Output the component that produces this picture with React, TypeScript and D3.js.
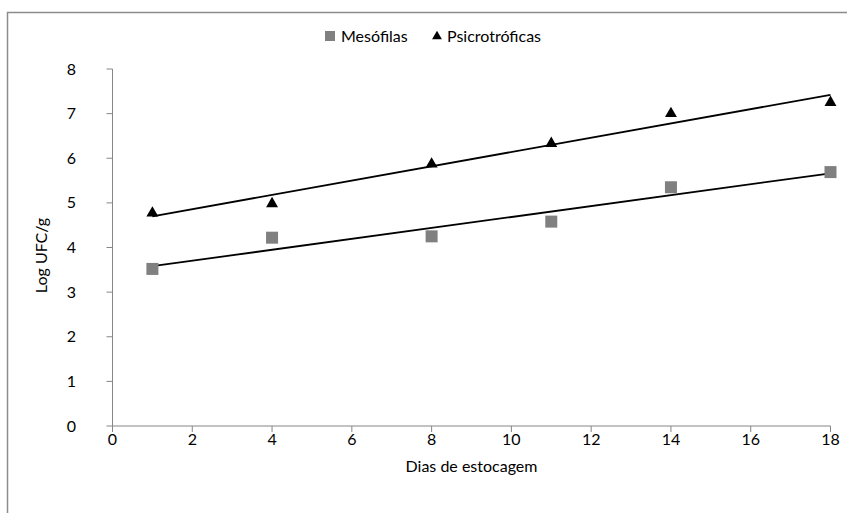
import React from "react";
import * as d3 from "d3";

const days = [1, 4, 8, 11, 14, 18];
const mesofilas = [3.52, 4.22, 4.25, 4.58, 5.35, 5.69];
const psicrotroficas = [4.77, 4.98, 5.87, 6.33, 7.0, 7.25];
const xTicks = [0, 2, 4, 6, 8, 10, 12, 14, 16, 18];
const yTicks = [0, 1, 2, 3, 4, 5, 6, 7, 8];

const W = 847;
const H = 513;
const FONT = "Lato, 'Open Sans', sans-serif";
const FS = 16;

function fit(xs: number[], ys: number[]) {
  const mx = d3.mean(xs)!;
  const my = d3.mean(ys)!;
  let sxy = 0, sxx = 0;
  xs.forEach((x, i) => {
    sxy += (x - mx) * (ys[i] - my);
    sxx += (x - mx) * (x - mx);
  });
  const b = sxy / sxx;
  return (x: number) => my + b * (x - mx);
}

export default function App() {
  const x = d3.scaleLinear().domain([0, 18]).range([112.5, 830.5]);
  const y = d3.scaleLinear().domain([0, 8]).range([426, 69]);
  const fm = fit(days, mesofilas);
  const fp = fit(days, psicrotroficas);
  const ends = [days[0], days[days.length - 1]];
  const tri = d3.symbol().type(d3.symbolTriangle).size(62)()!;
  const axisColor = "#868686";

  return (
    <svg width={W} height={H} style={{ position: "absolute", left: 0, top: 0 }}>
      <rect x={0} y={0} width={W} height={H} fill="#fff" />
      <rect x={7.5} y={12.5} width={W + 10} height={H + 10} fill="none" stroke="#8c8c8c" strokeWidth={1.5} />
      <line x1={x(0)} x2={x(0)} y1={y(8)} y2={y(0)} stroke={axisColor} />
      <line x1={x(0)} x2={x(18)} y1={y(0)} y2={y(0)} stroke={axisColor} />
      {yTicks.map((t) => (
        <g key={"y" + t}>
          <line x1={x(0) - 6} x2={x(0)} y1={y(t)} y2={y(t)} stroke={axisColor} />
          <text x={76} y={y(t)} dy="0.35em" textAnchor="end" fontFamily={FONT} fontSize={FS} fill="#000">
            {t}
          </text>
        </g>
      ))}
      {xTicks.map((t) => (
        <g key={"x" + t}>
          <line x1={x(t)} x2={x(t)} y1={y(0)} y2={y(0) + 6} stroke={axisColor} />
          <text x={x(t)} y={445} textAnchor="middle" fontFamily={FONT} fontSize={FS} fill="#000">
            {t}
          </text>
        </g>
      ))}
      <text x={x(9)} y={472} textAnchor="middle" fontFamily={FONT} fontSize={FS} fill="#000">
        Dias de estocagem
      </text>
      <text
        transform={`translate(47,${(y(0) + y(8)) / 2 + 8}) rotate(-90)`}
        textAnchor="middle"
        fontFamily={FONT}
        fontSize={FS}
        fill="#000"
      >
        Log UFC/g
      </text>
      <path
        d={d3.line<number>().x((d) => x(d)).y((d) => y(fm(d)))(ends)!}
        fill="none"
        stroke="#000"
        strokeWidth={1.8}
      />
      <path
        d={d3.line<number>().x((d) => x(d)).y((d) => y(fp(d)))(ends)!}
        fill="none"
        stroke="#000"
        strokeWidth={1.8}
      />
      {days.map((d, i) => (
        <rect key={"m" + i} x={x(d) - 6} y={y(mesofilas[i]) - 6} width={12} height={12} fill="#808080" />
      ))}
      {days.map((d, i) => (
        <path key={"p" + i} d={tri} transform={`translate(${x(d)},${y(psicrotroficas[i])})`} fill="#000" />
      ))}
      <rect x={325} y={31} width={10} height={10} fill="#808080" />
      <text x={341} y={42} fontFamily={FONT} fontSize={FS} fill="#000">
        Mesófilas
      </text>
      <path d={d3.symbol().type(d3.symbolTriangle).size(42)()!} transform="translate(437,36.5)" fill="#000" />
      <text x={447} y={42} fontFamily={FONT} fontSize={FS} fill="#000">
        Psicrotróficas
      </text>
    </svg>
  );
}
